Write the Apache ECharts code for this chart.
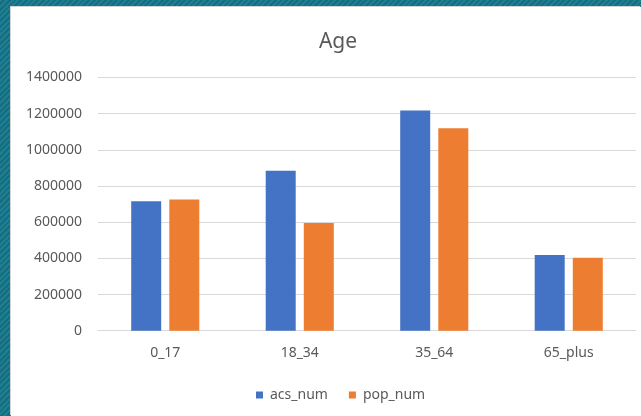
<!DOCTYPE html>
<html>
<head>
<meta charset="utf-8">
<script src="https://cdn.jsdelivr.net/npm/echarts@6/dist/echarts.min.js"></script>
<style>
  html, body { margin: 0; padding: 0; width: 641px; height: 416px; overflow: hidden; }
  body {
    background: repeating-linear-gradient(135deg, #1d7f93 0px, #1d7f93 2px, #176c7e 2px, #176c7e 4px);
    position: relative;
  }
  #chart {
    position: absolute; left: 11px; top: 7px; width: 630px; height: 409px;
    background: #ffffff; box-shadow: -1px -1px 0 #d0d6d8;
  }
</style>
</head>
<body>
<div id="chart"></div>
<script>
// Age groups and the two counts per group
const categories = ['0_17', '18_34', '35_64', '65_plus'];
const acsNum = [716000, 884000, 1218000, 418000];
const popNum = [726000, 595000, 1120000, 403000];
const yTicks = { min: 0, max: 1400000, interval: 200000 };

const textColor = '#595959';
const font = 'Noto Sans';

const chart = echarts.init(document.getElementById('chart'), null, { renderer: 'canvas' });
chart.setOption({
  animation: false,
  backgroundColor: '#ffffff',
  title: {
    text: 'Age',
    left: 322,
    top: 20,
    textAlign: 'center',
    textStyle: { color: textColor, fontFamily: font, fontSize: 21, fontWeight: 'normal' }
  },
  legend: {
    left: 240,
    top: 376,
    itemWidth: 7,
    itemHeight: 7,
    itemGap: 21,
    icon: 'rect',
    textStyle: { color: textColor, fontFamily: font, fontSize: 14, padding: [0, 0, 0, 2] },
    data: ['acs_num', 'pop_num']
  },
  grid: { left: 87, right: 5, top: 70.5, bottom: 85.3, containLabel: false },
  xAxis: {
    type: 'category',
    data: categories,
    axisLine: { show: true, lineStyle: { color: '#d9d9d9', width: 1 } },
    axisTick: { show: false },
    axisLabel: { color: textColor, fontFamily: font, fontSize: 14, margin: 15 }
  },
  yAxis: {
    type: 'value',
    min: yTicks.min,
    max: yTicks.max,
    interval: yTicks.interval,
    axisLine: { show: false },
    axisTick: { show: false },
    axisLabel: {
      color: textColor, fontFamily: font, fontSize: 14, margin: 16,
      formatter: (v) => String(v)
    },
    splitLine: { lineStyle: { color: '#d9d9d9', width: 1 } }
  },
  series: [
    {
      name: 'acs_num', type: 'bar', data: acsNum,
      barWidth: 30, barGap: '27%',
      itemStyle: { color: '#4472C4' }
    },
    {
      name: 'pop_num', type: 'bar', data: popNum,
      barWidth: 30, barGap: '27%',
      itemStyle: { color: '#ED7D31' }
    }
  ]
});
</script>
</body>
</html>
